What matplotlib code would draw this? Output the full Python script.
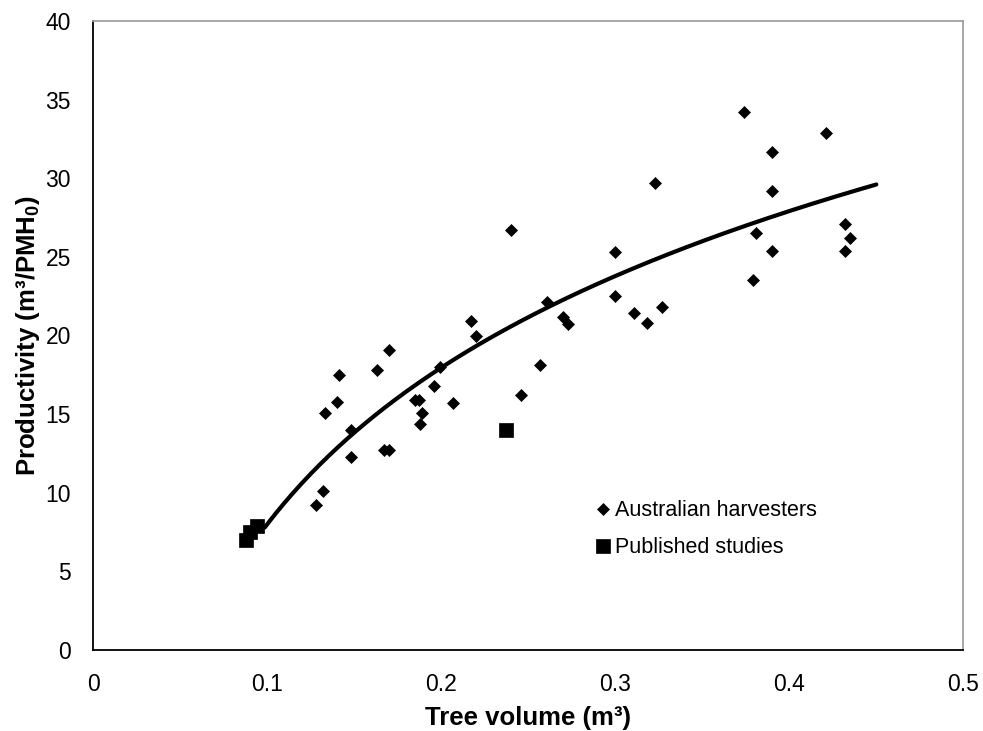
import numpy as np
import matplotlib
matplotlib.use("Agg")
import matplotlib.pyplot as plt

plt.rcParams['font.family'] = ['Liberation Sans', 'DejaVu Sans']
plt.rcParams['mathtext.fontset'] = 'custom'
plt.rcParams['mathtext.rm'] = 'Liberation Sans'
plt.rcParams['mathtext.bf'] = 'Liberation Sans:bold'

# Australian harvesters (tree volume m3, productivity m3/PMH0)
aus_x = [0.128, 0.132, 0.133, 0.140, 0.141, 0.148, 0.148, 0.163, 0.167, 0.170,
         0.170, 0.185, 0.187, 0.188, 0.189, 0.196, 0.199, 0.207, 0.217, 0.220,
         0.240, 0.246, 0.257, 0.261, 0.270, 0.273, 0.300, 0.300, 0.311, 0.318,
         0.323, 0.327, 0.374, 0.379, 0.381, 0.390, 0.390, 0.390, 0.421, 0.432,
         0.432, 0.435]
aus_y = [9.2, 10.1, 15.1, 15.8, 17.5, 14.0, 12.3, 17.8, 12.7, 12.7,
         19.1, 15.9, 15.9, 14.4, 15.1, 16.8, 18.0, 15.7, 20.9, 20.0,
         26.7, 16.2, 18.1, 22.1, 21.2, 20.7, 25.3, 22.5, 21.4, 20.8,
         29.7, 21.8, 34.2, 23.5, 26.5, 31.7, 29.2, 25.4, 32.9, 27.1,
         25.4, 26.2]

# Published studies
pub_x = [0.088, 0.090, 0.094, 0.237]
pub_y = [7.0, 7.5, 7.9, 14.0]

# Logarithmic trend line y = a*ln(x) + b, coefficients and range
trend_a = 14.36
trend_b = 41.07
trend_range = [0.0985, 0.45]

x_ticks = [0, 0.1, 0.2, 0.3, 0.4, 0.5]
x_tick_labels = ['0', '0.1', '0.2', '0.3', '0.4', '0.5']
y_ticks = [0, 5, 10, 15, 20, 25, 30, 35, 40]

fig = plt.figure(figsize=(9.83, 7.31), dpi=100)
ax = fig.add_axes([93.3 / 983, 81 / 731, 870 / 983, 629 / 731])

xt = np.linspace(trend_range[0], trend_range[1], 200)
ax.plot(xt, trend_a * np.log(xt) + trend_b, color='black', lw=3,
        solid_capstyle='round', zorder=2)

ax.plot(aus_x, aus_y, linestyle='none', marker='D', ms=6.6, color='black',
        mew=0.5, label='Australian harvesters', zorder=3)
ax.plot(pub_x, pub_y, linestyle='none', marker='s', ms=9.8, color='black',
        mew=0.5, label='Published studies', zorder=3)

ax.set_xlim(0, 0.5)
ax.set_ylim(0, 40)
ax.set_xticks(x_ticks)
ax.set_xticklabels(x_tick_labels)
ax.set_yticks(y_ticks)
ax.tick_params(axis='both', length=0, labelsize=16.5, colors='black')
ax.tick_params(axis='y', pad=16)
ax.tick_params(axis='x', pad=16.5)

for side in ['left', 'bottom']:
    ax.spines[side].set_color('black')
    ax.spines[side].set_linewidth(1.3)
for side in ['top', 'right']:
    ax.spines[side].set_color('#a0a0a0')
    ax.spines[side].set_linewidth(1.3)

ax.set_xlabel('Tree volume (m³)', fontsize=18.5, fontweight='bold')
ax.set_ylabel(r'Productivity (m³/PMH$_{\mathbf{0}}$)', fontsize=18.5, fontweight='bold')
ax.xaxis.set_label_coords(0.5, -0.089)
ax.yaxis.set_label_coords(-0.0585, 0.5)

ax.legend(loc='upper left', bbox_to_anchor=(0.576, 0.238), frameon=False,
          fontsize=15.5, handlelength=0.8, handletextpad=0.15, borderpad=0,
          borderaxespad=0, labelspacing=0.74, numpoints=1)

fig.savefig('out.png', dpi=100)
